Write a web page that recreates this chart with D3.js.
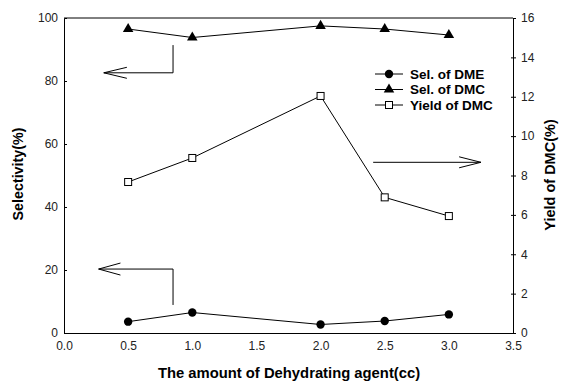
<!DOCTYPE html>
<html><head><meta charset="utf-8">
<script src="https://cdn.jsdelivr.net/npm/d3@7/dist/d3.min.js"></script>
<style>body{margin:0;background:#fff}svg{display:block}text{font-family:Arial,"Liberation Sans",sans-serif}</style>
</head><body><div id="c"></div>
<script>
const xValues = [0.5, 1.0, 2.0, 2.5, 3.0];
const selDME = [3.6, 6.5, 2.7, 3.8, 5.9];
const selDMC = [96.5, 93.8, 97.5, 96.5, 94.6];
const yieldDMC = [7.67, 8.89, 12.04, 6.89, 5.94];
const xTicks = [0, 0.5, 1.0, 1.5, 2.0, 2.5, 3.0, 3.5];
const yLeftTicks = [0, 20, 40, 60, 80, 100];
const yRightTicks = [0, 2, 4, 6, 8, 10, 12, 14, 16];
const legendLabels = ["Sel. of DME", "Sel. of DMC", "Yield of DMC"];
// annotation arrows in data units
const arrowLeftTop = {x0: 0.85, y0: 91.4, y1: 82.6, tip: 0.31, back: 0.49};
const arrowLeftBottom = {x0: 0.85, y0: 8.9, y1: 20.3, tip: 0.27, back: 0.44};
const arrowRight = {x0: 2.41, y: 8.67, tip: 3.25, back: 3.08};

const W = 563, H = 381;
const svg = d3.select("#c").append("svg").attr("width", W).attr("height", H);
const L = 64, R = 513, T = 18, B = 333;
const x = d3.scaleLinear().domain([0, 3.5]).range([L, R]);
const yL = d3.scaleLinear().domain([0, 100]).range([B, T]);
const yR = d3.scaleLinear().domain([0, 16]).range([B, T]);

svg.append("line").attr("x1", L).attr("x2", R).attr("y1", T).attr("y2", T).attr("stroke", "#000");

const gx = svg.append("g").attr("transform", `translate(0,${B})`)
  .call(d3.axisBottom(x).tickValues(xTicks).tickFormat(d3.format(".1f")).tickSize(0).tickPadding(8));
const gl = svg.append("g").attr("transform", `translate(${L},0)`)
  .call(d3.axisLeft(yL).tickValues(yLeftTicks).tickSize(-3).tickPadding(6));
const gr = svg.append("g").attr("transform", `translate(${R},0)`)
  .call(d3.axisRight(yR).tickValues(yRightTicks).tickSize(3).tickPadding(5));
gr.selectAll(".tick line").attr("x1", -2);
[gx, gl, gr].forEach(g => {
  g.select(".domain").attr("stroke", "#000");
  g.selectAll(".tick line").attr("stroke", "#000");
  g.selectAll(".tick text").attr("font-size", 12).attr("fill", "#222").attr("font-family", "Arial, Liberation Sans, sans-serif");
});
gl.selectAll(".tick line").filter(d => d === 100).remove();
gr.selectAll(".tick line").filter(d => d === 16).attr("x1", 0);

const lineL = d3.line().x((d, i) => x(xValues[i])).y(d => yL(d));
const lineR = d3.line().x((d, i) => x(xValues[i])).y(d => yR(d));
svg.append("path").attr("d", lineL(selDMC)).attr("fill", "none").attr("stroke", "#000");
svg.append("path").attr("d", lineL(selDME)).attr("fill", "none").attr("stroke", "#000");
svg.append("path").attr("d", lineR(yieldDMC)).attr("fill", "none").attr("stroke", "#000");

const tri = d3.symbol().type(d3.symbolTriangle).size(48);
svg.selectAll(".tri").data(selDMC).join("path")
  .attr("transform", (d, i) => `translate(${x(xValues[i])},${yL(d)})`).attr("d", tri()).attr("fill", "#000");
svg.selectAll(".cir").data(selDME).join("circle")
  .attr("cx", (d, i) => x(xValues[i])).attr("cy", d => yL(d)).attr("r", 4.2).attr("fill", "#000");
svg.selectAll(".sq").data(yieldDMC).join("rect")
  .attr("x", (d, i) => x(xValues[i]) - 3.5).attr("y", d => yR(d) - 3.5)
  .attr("width", 7).attr("height", 7).attr("fill", "#fff").attr("stroke", "#000");

function leftArrow(a, hw) {
  const cx = x(a.x0), cy = yL(a.y1), tx = x(a.tip), bx = x(a.back);
  svg.append("path").attr("d", `M${cx},${yL(a.y0)}V${cy}H${tx}`).attr("fill", "none").attr("stroke", "#000");
  svg.append("path").attr("d", `M${bx},${cy - hw}L${tx},${cy}L${bx},${cy + hw}`).attr("fill", "none").attr("stroke", "#000");
}
leftArrow(arrowLeftTop, 5.5);
leftArrow(arrowLeftBottom, 6);
{
  const a = arrowRight, cy = yR(a.y), tx = x(a.tip), bx = x(a.back);
  svg.append("path").attr("d", `M${x(a.x0)},${cy}H${tx}`).attr("fill", "none").attr("stroke", "#000");
  svg.append("path").attr("d", `M${bx},${cy - 5.5}L${tx},${cy}L${bx},${cy + 5.5}`).attr("fill", "none").attr("stroke", "#000");
}

const lg = svg.append("g").attr("transform", "translate(375,74)");
legendLabels.forEach((lab, i) => {
  const g = lg.append("g").attr("transform", `translate(0,${i * 15.5})`);
  g.append("line").attr("x1", 0).attr("x2", 28).attr("stroke", "#000");
  if (i === 0) g.append("circle").attr("cx", 14).attr("r", 4.2).attr("fill", "#000");
  if (i === 1) g.append("path").attr("transform", "translate(14,0)").attr("d", tri()).attr("fill", "#000");
  if (i === 2) g.append("rect").attr("x", 10.5).attr("y", -3.5).attr("width", 7).attr("height", 7).attr("fill", "#fff").attr("stroke", "#000");
  g.append("text").attr("x", 35).attr("dy", "0.36em").attr("font-size", 13.5).attr("font-weight", "bold").text(lab);
});

svg.append("text").attr("x", 289).attr("y", 378).attr("text-anchor", "middle")
  .attr("font-size", 14.8).attr("font-weight", "bold").text("The amount of Dehydrating agent(cc)");
svg.append("text").attr("transform", "translate(23,174) rotate(-90)").attr("text-anchor", "middle")
  .attr("font-size", 14.3).attr("font-weight", "bold").text("Selectivity(%)");
svg.append("text").attr("transform", "translate(555,175) rotate(-90)").attr("text-anchor", "middle")
  .attr("font-size", 14.5).attr("font-weight", "bold").text("Yield of DMC(%)");
</script></body></html>
